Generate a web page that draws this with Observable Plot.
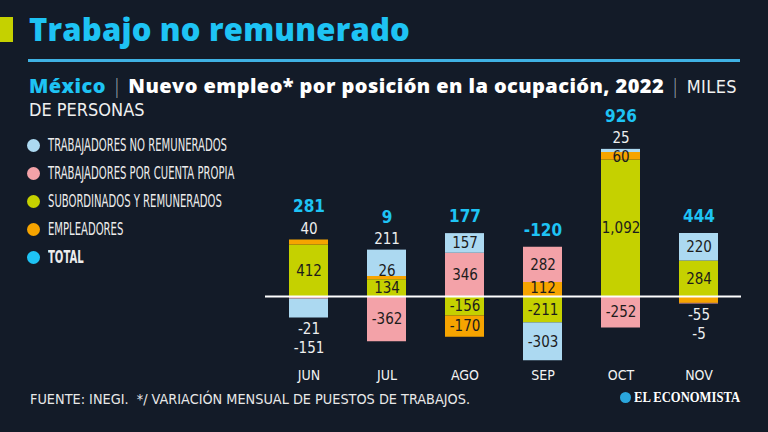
<!DOCTYPE html>
<html>
<head>
<meta charset="utf-8">
<script src="https://cdn.jsdelivr.net/npm/d3@7"></script>
<script src="https://cdn.jsdelivr.net/npm/@observablehq/plot@0.6"></script>
<style>
  html, body { margin: 0; padding: 0; }
  body { width: 768px; height: 432px; overflow: hidden; position: relative; background: #131b28; font-family: "Open Sans", Lato, sans-serif; }
  .abs { position: absolute; white-space: nowrap; }
  .cond { font-family: "Liberation Sans Narrow", "DejaVu Sans Condensed", "DejaVu Sans", sans-serif; font-stretch: condensed; }
  #title { left: 29px; top: 8px; font-size: 31px; font-weight: 800; color: #1ec3f4; }
  #sq { left: 0; top: 17px; width: 13px; height: 25px; background: #c5d100; }
  #hr { left: 28px; top: 59px; width: 712px; height: 3px; background: #3fb2e3; }
  #sub1 { left: 29px; top: 73px; font-size: 20px; color: #fff; line-height: 26px; font-weight: 800; }
  #sub2 { left: 29px; top: 98px; font-size: 18px; color: #f0f0f0; line-height: 24px; }
  .mx { color: #1ec3f4; }
  .sep { color: #9aa3ad; font-weight: 300; }
  .lt { font-weight: 400; font-size: 18px; color: #f0f0f0; }
  #chart { left: 0; top: 100px; }
  #legend { left: 27px; top: 131px; color: #ececec; font-size: 17px; }
  #legend .row { height: 28px; display: flex; align-items: center; }
  #legend .dot { width: 13px; height: 13px; border-radius: 50%; margin-right: 8px; flex: none; }
  #legend .lbl { display: inline-block; transform-origin: left center; }
  #foot { left: 30px; top: 391px; font-size: 14px; color: #e8e8e8; transform-origin: left center; }
  #logo { left: 620px; top: 389px; font-size: 15px; color: #fff; display: flex; align-items: center; }
  #logo .e { width: 11px; height: 11px; border-radius: 50%; background: #2aa6dc; margin-right: 3px; display: inline-block; }
  #logo .t { display: inline-block; font-family: "Liberation Serif", "DejaVu Serif", serif; font-weight: bold; transform-origin: left center; }
</style>
</head>
<body>
<div id="sq" class="abs"></div>
<div id="title" class="abs">Trabajo no remunerado</div>
<div id="hr" class="abs"></div>
<div id="sub1" class="abs"><span class="mx">México</span> <span class="sep">|</span> Nuevo empleo* por posición en la ocupación, 2022 <span class="sep">|</span> <span class="lt cond">MILES</span></div>
<div id="sub2" class="abs cond">DE PERSONAS</div>
<div id="chart" class="abs"></div>
<div id="legend" class="abs cond"></div>
<div id="foot" class="abs cond">FUENTE: INEGI.&nbsp; */ VARIACIÓN MENSUAL DE PUESTOS DE TRABAJOS.</div>
<div id="logo" class="abs"><span class="e"></span><span class="t">EL ECONOMISTA</span></div>
<script>
// ---- data ----
const months = ["JUN", "JUL", "AGO", "SEP", "OCT", "NOV"];
const seriesNames = ["SUBORDINADOS Y REMUNERADOS", "EMPLEADORES", "TRABAJADORES POR CUENTA PROPIA", "TRABAJADORES NO REMUNERADOS"];
const subordinados = [412, 134, -156, -211, 1092, 284];
const empleadores = [40, 26, -170, 112, 60, -55];
const cuentaPropia = [-21, -362, 346, 282, -252, -5];
const noRemunerados = [-151, 211, 157, -303, 25, 220];
const totals = [281, 9, 177, -120, 926, 444];
const legendNames = ["TRABAJADORES NO REMUNERADOS", "TRABAJADORES POR CUENTA PROPIA", "SUBORDINADOS Y REMUNERADOS", "EMPLEADORES", "TOTAL"];

// ---- styles ----
const seriesColors = ["#c5d100", "#f6a400", "#f3a2a8", "#acd9f1"];
const totalColor = "#1ec3f4";
const condFont = "'Liberation Sans Narrow', 'DejaVu Sans Condensed', 'DejaVu Sans', sans-serif";

const W = 768, H = 290, mT = 10, mB = 28, mL = 265, mR = 27;
const yDomain = [-528, 1488];
const k = (H - mB - mT) / (yDomain[1] - yDomain[0]); // px per unit

const seriesValues = [subordinados, empleadores, cuentaPropia, noRemunerados];
const rows = [];
seriesValues.forEach((arr, s) => arr.forEach((v, i) => rows.push({month: months[i], series: seriesNames[s], value: v})));

const fmt = v => (v < 0 ? "-" : "") + d3.format(",")(Math.abs(v));

// ---- label layout (in pixels from the zero line) ----
const SEP = 17;
const inLabels = [], outLabels = [], totalLabels = [];
months.forEach((m, i) => {
  let topD = 0; const topOut = [];
  for (const sign of [1, -1]) {
    const segs = []; let acc = 0;
    seriesValues.forEach(arr => {
      const v = arr[i];
      if (Math.sign(v) === sign) { const h = Math.abs(v) * k; segs.push({v, start: acc, end: acc + h}); acc += h; }
    });
    const Hs = acc;
    const inside = segs.slice(), outside = [];
    while (inside.length && inside[inside.length - 1].end - inside[inside.length - 1].start < 7) outside.unshift(inside.pop());
    const bounds = s => [Math.max(s.start - 5, 8), Math.min(s.end + 5, Hs - 8)];
    const feasible = list => {
      let prev = -Infinity;
      for (const s of list) { const [lo, hi] = bounds(s); const d = Math.max(lo, prev + SEP); if (d > hi + 1e-9) return false; prev = d; }
      return true;
    };
    while (inside.length && !feasible(inside)) outside.unshift(inside.pop());
    const ds = inside.map(s => { const [lo, hi] = bounds(s); return Math.min(hi, Math.max(lo, (s.start + s.end) / 2)); });
    for (let j = 1; j < ds.length; j++) ds[j] = Math.max(ds[j], ds[j - 1] + SEP);
    for (let j = ds.length - 2; j >= 0; j--) ds[j] = Math.min(ds[j], ds[j + 1] - SEP);
    inside.forEach((s, j) => inLabels.push({month: m, y: sign * ds[j] / k, text: fmt(s.v)}));
    outside.forEach((s, j) => {
      const d = Hs + 11 + j * 19;
      outLabels.push({month: m, y: sign * d / k, text: fmt(s.v)});
      if (sign === 1) topOut.push(d);
    });
    if (sign === 1) topD = Hs;
  }
  const dT = topOut.length ? topOut[topOut.length - 1] + 22 : topD + 17;
  totalLabels.push({month: m, y: dT / k, text: fmt(totals[i])});
});

const chart = Plot.plot({
  width: W, height: H,
  marginTop: mT, marginBottom: mB, marginLeft: mL, marginRight: mR,
  style: {background: "transparent", color: "#f2f2f2", fontFamily: condFont, fontSize: "14px"},
  x: {domain: months, paddingInner: 0.5, paddingOuter: 0.27, tickSize: 0, tickPadding: 8, label: null},
  y: {domain: yDomain, axis: null},
  color: {domain: seriesNames, range: seriesColors},
  marks: [
    Plot.barY(rows, {x: "month", y: "value", fill: "series"}),
    Plot.ruleY([0], {stroke: "#ffffff", strokeWidth: 2}),
    Plot.text(inLabels, {x: "month", y: "y", text: "text", fill: "#1c1c1c", fontSize: 15, fontFamily: condFont}),
    Plot.text(outLabels, {x: "month", y: "y", text: "text", fill: "#eeeeee", fontSize: 15, fontFamily: condFont}),
    Plot.text(totalLabels, {x: "month", y: "y", text: "text", fill: totalColor, fontSize: 17, fontWeight: "bold", fontFamily: condFont})
  ]
});
document.getElementById("chart").appendChild(chart);

// legend
const legendColors = [seriesColors[3], seriesColors[2], seriesColors[0], seriesColors[1], totalColor];
const leg = document.getElementById("legend");
const lbls = [];
legendNames.forEach((name, j) => {
  const row = document.createElement("div");
  row.className = "row";
  const dot = document.createElement("span");
  dot.className = "dot";
  dot.style.background = legendColors[j];
  const t = document.createElement("span");
  t.className = "lbl";
  t.textContent = name;
  if (name === "TOTAL") t.style.fontWeight = "bold";
  row.appendChild(dot); row.appendChild(t);
  leg.appendChild(row);
  lbls.push(t);
});

// text width fitting helpers
function fitSpacing(el, target) {
  el.style.letterSpacing = "0px";
  const w = el.getBoundingClientRect().width;
  const n = el.textContent.length;
  el.style.letterSpacing = ((target - w) / n) + "px";
}
function fitScale(el, target) {
  el.style.transform = "none";
  const w = el.getBoundingClientRect().width;
  el.style.transform = `scaleX(${target / w})`;
}
fitSpacing(document.getElementById("title"), 381);
fitSpacing(document.getElementById("sub1"), 708);
const legScale = 179 / lbls[0].getBoundingClientRect().width;
lbls.forEach(t => t.style.transform = `scaleX(${legScale})`);
fitScale(document.getElementById("foot"), 440);
fitScale(document.querySelector("#logo .t"), 106);
</script>
</body>
</html>
